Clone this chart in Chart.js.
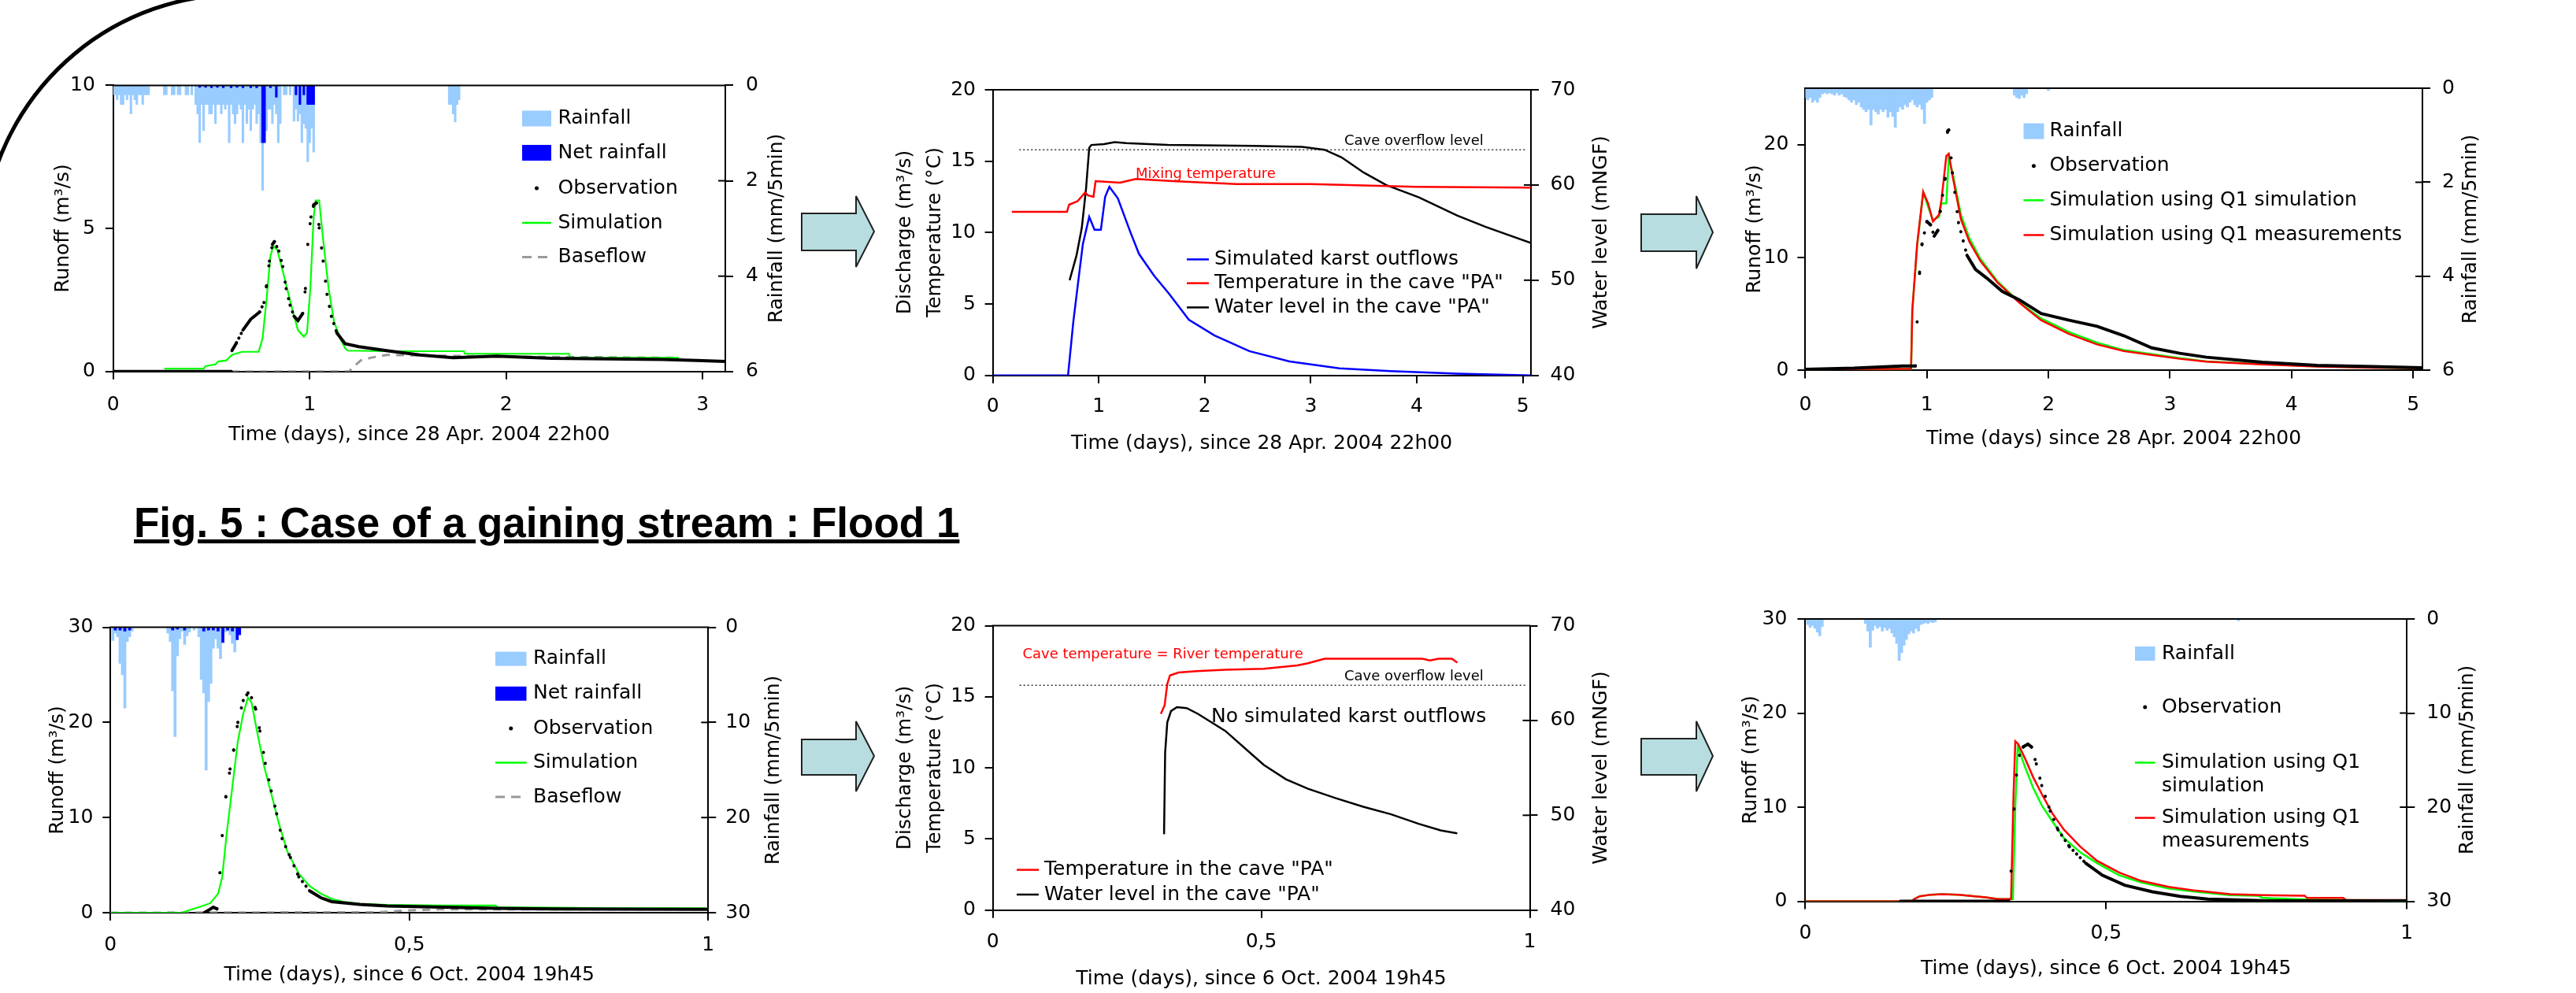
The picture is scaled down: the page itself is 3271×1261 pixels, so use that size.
<!DOCTYPE html>
<html>
<head>
<meta charset="utf-8">
<script src="https://cdn.jsdelivr.net/npm/chart.js@4.4.1/dist/chart.umd.min.js"></script>
<style>
  body { margin: 0; width: 3271px; height: 1261px; background: #fff; position: relative; overflow: hidden; }
  canvas { position: absolute; }
  #deco { position: absolute; left: 0; top: 0; }
  #title { position: absolute; left: 170px; top: 637px; font: bold 53px "Liberation Sans", Arial, sans-serif;
           line-height: 53px; text-decoration: underline; white-space: nowrap; color: #000; }
</style>
</head>
<body>
<svg id="deco" width="3271" height="1261">
  <path d="M -17 260 A 325 325 0 0 1 303 -7" fill="none" stroke="#000" stroke-width="5"/>
  <polygon points="1018,271 1087,271 1087,249 1110,294 1087,339 1087,318 1018,318" fill="#b7dde0" stroke="#222" stroke-width="2"/>
  <polygon points="2084,272 2154,272 2154,249 2175,295 2154,341 2154,319 2084,319" fill="#b7dde0" stroke="#222" stroke-width="2"/>
  <polygon points="1018,939 1087,939 1087,916 1110,960 1087,1005 1087,984 1018,984" fill="#b7dde0" stroke="#222" stroke-width="2"/>
  <polygon points="2084,938 2154,938 2154,916 2175,960 2154,1005 2154,984 2084,984" fill="#b7dde0" stroke="#222" stroke-width="2"/>
</svg>
<div id="title">Fig. 5 : Case of a gaining stream : Flood 1</div>
<script>
'use strict';

// ---------- Flood 1, runoff (top left) ----------
const rain1T = [0,0.01,0.02,0.03,0.04,0.05,0.06,0.07,0.08,0.09,0.10,0.11,0.12,0.13,0.14,0.15,0.16,0.17,0.18,
  0.26,0.27,0.30,0.31,0.33,0.34,0.37,0.38,0.40,
  0.42,0.43,0.44,0.45,0.46,0.47,0.48,0.49,0.50,0.51,0.52,0.53,0.54,0.55,0.56,0.57,0.58,0.59,0.60,0.61,
  0.62,0.63,0.64,0.65,0.66,0.67,0.68,0.69,0.70,0.71,0.72,0.73,0.74,0.75,0.76,0.77,0.78,0.79,0.80,0.81,
  0.82,0.83,0.84,0.85,
  0.87,0.88,0.90,0.92,0.93,0.94,0.95,0.96,0.97,0.98,0.99,1.00,1.01,1.02,
  1.71,1.72,1.73,1.74,1.75,1.76];
const rain1 = [0.2,0.2,0.3,0.2,0.4,0.4,0.2,0.3,0.2,0.6,0.2,0.3,0.4,0.2,0.2,0.4,0.2,0.2,0.2,
  0.2,0.2,0.2,0.2,0.2,0.2,0.2,0.2,0.2,
  0.4,0.6,1.2,0.4,0.95,0.4,0.4,0.6,0.6,0.4,0.8,0.4,0.4,0.6,0.4,0.5,0.4,1.2,0.4,0.6,
  0.8,0.6,0.4,0.5,1.2,0.4,0.8,0.5,0.95,0.5,0.4,0.8,0.6,1.2,2.2,0.6,0.95,0.5,0.5,0.8,
  0.4,0.6,1.2,0.8,
  0.2,0.2,0.2,0.75,0.5,0.75,0.6,1.2,0.8,0.9,1.6,1.2,0.9,1.4,
  0.4,0.4,0.6,0.77,0.4,0.3];
const net1T = [0.44,0.47,0.50,0.53,0.56,0.60,0.63,0.66,0.70,0.73,0.76,0.77,0.80,0.83,0.93,0.95,0.97,0.99,1.00,1.01,1.02];
const net1 = [0.04,0.04,0.05,0.04,0.05,0.05,0.04,0.05,0.05,0.05,1.2,1.2,0.05,0.25,0.2,0.4,0.2,0.4,0.4,0.4,0.4];
const obs1T = [0,0.6,0.604,0.627,0.66,0.70,0.745,0.767,0.78,0.795,0.81,0.82,0.843,0.863,0.88,0.90,0.92,0.94,0.964,
  0.978,0.99,1.006,1.02,1.034,1.048,1.068,1.088,1.11,1.138,1.18,1.25,1.39,1.56,1.73,1.95,2.23,2.52,2.80,2.97,3.115];
const obs1 = [0,0,0.73,1.0,1.45,1.83,2.08,2.41,3.0,3.86,4.44,4.54,4.21,3.67,2.9,2.32,1.93,1.78,2.03,
  2.9,4.44,5.4,5.83,5.89,5.02,3.86,2.7,1.93,1.35,0.97,0.87,0.73,0.58,0.48,0.54,0.46,0.44,0.42,0.39,0.35];
const sim1T = [0.26,0.46,0.47,0.52,0.534,0.576,0.604,0.655,0.74,0.76,0.78,0.80,0.815,0.835,0.857,0.885,0.913,0.94,
  0.97,0.986,1.003,1.02,1.03,1.048,1.068,1.096,1.124,1.152,1.18,1.194,1.39,1.785,1.79,2.32,2.325,2.88];
const sim1 = [0.1,0.1,0.19,0.25,0.35,0.39,0.58,0.69,0.69,1.16,2.5,4.05,4.38,4.25,3.67,2.9,2.12,1.45,
  1.22,1.35,2.9,5.4,5.98,5.98,4.63,2.9,1.74,1.2,0.81,0.73,0.71,0.71,0.62,0.62,0.48,0.48];
const base1T = [0.6,1.2,1.22,1.26,1.31,1.39,2.0,2.5,2.88];
const base1 = [0,0,0.15,0.39,0.48,0.58,0.52,0.5,0.48];

// ---------- Flood 1, cave (top middle) ----------
const karst2T = [0,0.71,0.76,0.81,0.85,0.91,0.96,1.02,1.06,1.10,1.18,1.3,1.38,1.52,1.66,1.85,2.09,2.42,2.8,3.27,3.75,4.38,5.077];
const karst2 = [0,0,3.75,6.8,9.2,11.1,10.2,10.2,12.5,13.2,12.4,10.0,8.5,7.0,5.75,3.9,2.8,1.7,0.98,0.5,0.3,0.12,0];
const temp2T = [0.18,0.70,0.72,0.80,0.87,0.90,0.95,0.97,1.2,1.35,1.7,2.3,3.0,3.5,4.0,5.077];
const temp2 = [11.45,11.45,11.95,12.2,12.8,12.6,12.5,13.6,13.5,13.75,13.6,13.4,13.4,13.3,13.2,13.15];
const level2T = [0.725,0.79,0.84,0.88,0.91,0.93,1.05,1.15,1.26,1.65,2.46,2.92,3.13,3.29,3.50,3.71,4.02,4.38,4.65,5.077];
const level2 = [50,52.6,55.5,59.6,63.9,64.2,64.3,64.5,64.4,64.2,64.1,64.0,63.7,62.9,61.3,60.0,58.7,56.8,55.6,53.9];
const overflowLevel = 15.8;
const overflow2Span = [0.25, 5.03];

// ---------- Flood 1, downstream runoff (top right) ----------
const rain3T = [0,0.02,0.04,0.06,0.08,0.10,0.12,0.14,0.16,0.18,0.20,0.22,0.24,0.26,0.28,0.30,0.32,0.34,0.36,0.38,
  0.40,0.42,0.44,0.46,0.48,0.50,0.52,0.54,0.56,0.58,0.60,0.62,0.64,0.66,0.68,0.70,0.72,0.74,0.76,0.78,
  0.80,0.82,0.84,0.86,0.88,0.90,0.92,0.94,0.96,0.98,1.00,1.02,1.04,
  1.72,1.74,1.76,1.78,1.80,1.82,2.00];
const rain3 = [0.2,0.25,0.2,0.3,0.25,0.3,0.2,0.12,0.1,0.12,0.1,0.12,0.15,0.1,0.15,0.12,0.18,0.2,0.25,0.3,
  0.25,0.35,0.3,0.4,0.45,0.5,0.45,0.78,0.45,0.5,0.55,0.45,0.5,0.45,0.62,0.5,0.6,0.83,0.5,0.4,
  0.45,0.35,0.4,0.3,0.25,0.35,0.4,0.35,0.45,0.75,0.3,0.25,0.2,
  0.15,0.2,0.22,0.15,0.2,0.12,0.05];
const obs3T = [0,0.4,0.8,0.905,0.92,0.94,0.96,1.0,1.03,1.06,1.09,1.11,1.15,1.17,1.18,1.21,1.26,1.33,1.40,1.49,
  1.62,1.76,1.94,2.17,2.40,2.62,2.85,3.08,3.30,3.76,4.21,4.67,5.077];
const obs3 = [0.1,0.2,0.4,0.4,4.3,8.7,11.2,13.2,12.9,11.9,12.4,14.1,17.0,21.2,21.3,17.5,13.1,10.2,8.95,8.2,
  7.0,6.26,5.04,4.45,3.91,3.08,2.0,1.52,1.17,0.73,0.44,0.34,0.24];
const sim3T = [0,0.87,0.88,0.92,0.97,1.01,1.05,1.10,1.12,1.16,1.18,1.21,1.28,1.35,1.44,1.58,1.76,1.94,2.17,2.40,
  2.62,2.85,3.08,3.30,3.76,4.21,4.67,5.077];
const simQ1sim3 = [0.1,0.15,5.3,11.0,15.8,14.5,13.3,13.6,14.8,14.8,18.8,17.6,13.8,11.7,9.9,7.9,6.05,4.6,3.4,2.45,
  1.8,1.45,1.1,0.8,0.56,0.36,0.26,0.2];
const simQ1meas3 = [0.1,0.15,5.3,11.2,15.8,14.8,13.2,13.8,15.1,19.0,19.2,17.3,13.4,11.4,9.7,7.8,6.0,4.45,3.23,2.3,
  1.71,1.37,1.03,0.78,0.54,0.34,0.24,0.2];

// ---------- Flood 2, runoff (bottom left) ----------
const rain4T = [0.004,0.008,0.012,0.016,0.020,0.024,0.028,0.032,0.036,
  0.096,0.100,0.104,0.108,0.112,0.116,0.120,0.124,0.128,0.132,0.140,
  0.148,0.152,0.156,0.160,0.164,0.168,0.172,0.176,0.180,0.184,0.188,0.192,0.196,0.200,0.204,0.208,0.212,0.216];
const rain4 = [1.4,0.6,1.0,3.8,5.0,8.5,1.5,1.0,0.4,
  0.6,1.5,6.7,11.5,3.0,1.2,0.4,1.8,0.9,0.5,0.3,
  1.0,5.5,6.9,15.0,7.8,5.9,2.2,1.2,2.2,3.3,1.0,0.5,0.4,0.8,1.7,2.6,0.8,0.3];
const net4T = [0.008,0.016,0.024,0.032,0.104,0.112,0.124,0.156,0.164,0.172,0.180,0.188,0.196,0.204,0.212,0.216];
const net4 = [0.3,0.3,0.4,0.3,0.3,0.2,0.3,0.4,0.3,0.3,0.4,1.6,0.3,0.4,1.3,0.8];
const obs4T = [0.157,0.165,0.172,0.178,0.183,0.187,0.193,0.2,0.206,0.213,0.222,0.23,0.236,0.243,0.25,0.259,0.269,
  0.278,0.287,0.301,0.315,0.333,0.352,0.37,0.417,0.463,0.556,0.648,0.74,1.0];
const obs4 = [0,0.3,0.58,0.4,4.2,8.1,12.2,15.1,17.1,20.0,22.3,23.1,22.6,21.4,19.1,15.7,12.8,
  10.4,7.8,5.8,3.77,2.3,1.57,1.16,0.87,0.7,0.58,0.46,0.4,0.35];
const sim4T = [0,0.12,0.13,0.148,0.167,0.18,0.187,0.194,0.204,0.213,0.222,0.23,0.236,0.245,0.257,0.269,0.282,
  0.296,0.315,0.333,0.352,0.37,0.389,0.417,0.463,0.556,0.644,0.648,0.74,0.833,1.0];
const sim4 = [0,0,0.23,0.58,1.0,2.0,3.77,8.1,13.3,18.0,20.9,22.6,22.1,19.1,15.4,12.5,9.3,
  6.4,4.1,2.8,2.0,1.45,1.16,0.93,0.81,0.75,0.75,0.58,0.52,0.46,0.46];
const base4T = [0,0.45,0.5,0.55,1.0];
const base4 = [0,0.05,0.25,0.35,0.35];

// ---------- Flood 2, cave (bottom middle) ----------
const temp5T = [0.313,0.32,0.325,0.33,0.346,0.38,0.433,0.505,0.567,0.587,0.618,0.80,0.814,0.83,0.855,0.865];
const temp5 = [13.8,14.4,15.9,16.5,16.7,16.8,16.9,16.97,17.2,17.36,17.67,17.67,17.55,17.67,17.67,17.4];
const level5T = [0.319,0.321,0.325,0.332,0.343,0.361,0.382,0.433,0.485,0.505,0.546,0.587,0.639,0.69,0.742,0.793,0.834,0.865];
const level5 = [48.0,56.6,59.8,61.0,61.4,61.3,60.7,58.9,56.3,55.3,53.8,52.8,51.8,50.9,50.1,49.1,48.4,48.1];
const overflow5Span = [0.05, 0.993];

// ---------- Flood 2, downstream runoff (bottom right) ----------
const rain6T = [0.004,0.008,0.012,0.016,0.020,0.024,0.028,
  0.100,0.104,0.108,0.112,0.116,0.120,0.124,0.128,0.132,0.136,0.140,0.144,0.148,0.152,0.156,0.160,0.164,0.168,
  0.172,0.176,0.180,0.184,0.188,0.192,0.196,0.200,0.204,0.208,0.212,0.216,0.720];
const rain6 = [0.6,0.9,0.7,1.0,1.4,1.8,0.8,
  0.5,1.3,3.0,1.2,0.7,1.0,0.8,1.3,0.9,1.2,1.0,1.5,1.9,2.6,4.4,3.6,2.8,2.2,
  1.6,1.3,1.5,1.0,1.3,0.6,0.5,0.4,0.5,0.3,0.4,0.3,0.2];
const obs6T = [0.158,0.338,0.342,0.347,0.351,0.356,0.362,0.37,0.376,0.384,0.393,0.407,0.42,0.439,0.466,0.494,
  0.531,0.577,0.623,0.669,0.761,1.0];
const obs6 = [0,0,3.2,9.8,13.4,15.5,16.4,16.7,16.4,14.6,12.3,9.6,7.6,5.8,4.05,2.76,1.7,1.0,0.53,0.23,0.06,0.05];
const meas6T = [0,0.177,0.181,0.19,0.209,0.227,0.255,0.282,0.30,0.32,0.342,0.346,0.349,0.354,0.365,0.379,0.393,
  0.411,0.43,0.457,0.485,0.522,0.558,0.604,0.65,0.706,0.761,0.83,0.834,0.894,0.899,1.0];
const meas6 = [0,0,0.23,0.53,0.7,0.76,0.7,0.53,0.41,0.23,0.23,11.1,17.0,16.7,15.2,13.15,11.4,
  9.3,7.6,5.8,4.3,3.05,2.17,1.53,1.12,0.76,0.65,0.59,0.35,0.35,0.12,0.12];
const qsim6T = [0,0.177,0.181,0.19,0.209,0.227,0.255,0.282,0.30,0.32,0.345,0.349,0.353,0.365,0.379,0.393,0.411,
  0.43,0.457,0.485,0.522,0.558,0.604,0.65,0.706,0.752,0.761,0.834,1.0];
const qsim6 = [0,0,0.23,0.53,0.7,0.76,0.7,0.53,0.41,0.23,0.23,10.0,16.5,14.3,12.0,10.2,8.45,
  6.7,5.2,4.05,2.76,2.0,1.35,1.0,0.65,0.59,0.35,0.18,0.05];

// ---------- styling ----------
const FONT = 'DejaVu Sans';
const RAIN = '#99ccff', NET = '#0000ff', GREEN = '#00ff00', RED = '#ff0000', BLUE = '#0000ff', GRAY = '#999999';
Chart.defaults.font.family = FONT;
Chart.defaults.font.size = 25;
Chart.defaults.color = '#000';

const pts = (t, v) => t.map((x, i) => ({ x: x, y: v[i] }));
const flat = (span, v) => span.map(x => ({ x: x, y: v }));

// observations: one dot per sample where the curve is steep, continuous where dense
function obsDash(step) {
  return ctx => {
    const dx = Math.abs(ctx.p1.x - ctx.p0.x), dy = Math.abs(ctx.p1.y - ctx.p0.y);
    const gap = step * Math.hypot(dx, dy) / Math.max(dx, 0.5);
    return gap > 6 ? [0.1, gap] : undefined;
  };
}

function rainSet(t, v, color, order) {
  return { type: 'bar', data: pts(t, v), yAxisID: 'yR', backgroundColor: color, borderWidth: 0,
    barPercentage: 1, categoryPercentage: 1, grouped: false, order: order };
}
function lineSet(data, color, width, order, axis, dash) {
  return { type: 'line', data: data, yAxisID: axis || 'yL', borderColor: color, borderWidth: width,
    borderDash: dash || [], pointRadius: 0, tension: 0, fill: false, order: order };
}
function obsSet(t, v, step, order) {
  return { type: 'line', data: pts(t, v), yAxisID: 'yL', borderColor: '#000', borderWidth: 4,
    borderCapStyle: 'round', pointRadius: 0, tension: 0, fill: false, order: order,
    segment: { borderDash: obsDash(step) } };
}

function axis(pos, min, max, ticks, size, pad, rev) {
  const horizontal = pos === 'bottom';
  return {
    type: 'linear', position: pos, min: min, max: max, reverse: !!rev, offset: false,
    grid: { drawOnChartArea: false, color: '#000', lineWidth: 2, tickLength: 10, offset: false },
    border: { color: '#000', width: 2 },
    ticks: { color: '#000', font: { family: FONT, size: 25 }, padding: pad, maxRotation: 0, autoSkip: false,
      callback: v => String(v).replace('.', ',') },
    afterBuildTicks: s => { s.ticks = ticks.map(v => ({ value: v })); },
    afterFit: s => {
      if (horizontal) { s.height = size; s.paddingLeft = 0; s.paddingRight = 0; }
      else { s.width = size; s.paddingTop = 0; s.paddingBottom = 0; }
    }
  };
}

function decor(spec) {
  return {
    id: 'decor',
    afterDraw(chart) {
      const ctx = chart.ctx, a = chart.chartArea;
      ctx.save();
      ctx.strokeStyle = '#000';
      ctx.lineWidth = 2;
      ctx.beginPath(); ctx.moveTo(a.left - 1, a.top); ctx.lineTo(a.right + 1, a.top); ctx.stroke();
      const yR = chart.scales.yR;
      yR.ticks.forEach(t => {
        const y = yR.getPixelForValue(t.value);
        if (y > a.top + 3 && y < a.bottom - 3) {
          ctx.beginPath(); ctx.moveTo(a.right - 9, y); ctx.lineTo(a.right, y); ctx.stroke();
        }
      });
      const ox = spec.ox, oy = spec.oy;
      spec.legend.forEach(it => {
        const x0 = it.x0 - ox, x1 = it.x1 - ox, y = it.y - oy;
        ctx.setLineDash([]);
        if (it.k === 'box') {
          ctx.fillStyle = it.c; ctx.fillRect(x0, y - it.h / 2, x1 - x0, it.h);
        } else if (it.k === 'dot') {
          ctx.fillStyle = '#000'; ctx.beginPath(); ctx.arc((x0 + x1) / 2, y, 2.5, 0, Math.PI * 2); ctx.fill();
        } else {
          ctx.strokeStyle = it.c; ctx.lineWidth = it.k === 'dash' ? 3 : 2.5;
          if (it.k === 'dash') ctx.setLineDash([12, 8]);
          ctx.beginPath(); ctx.moveTo(x0, y); ctx.lineTo(x1, y); ctx.stroke();
        }
        ctx.setLineDash([]);
        ctx.fillStyle = '#000';
        ctx.font = '25px "' + FONT + '"';
        ctx.textAlign = 'left'; ctx.textBaseline = 'middle';
        it.label.forEach((s, i) => ctx.fillText(s, it.lx - ox, y + i * 30));
      });
      spec.texts.forEach(t => {
        ctx.save();
        ctx.translate(t.x - ox, t.y - oy);
        if (t.rot) ctx.rotate(-Math.PI / 2);
        ctx.font = (t.size || 25) + 'px "' + FONT + '"';
        ctx.fillStyle = t.color || '#000';
        ctx.textAlign = t.align || 'center';
        ctx.textBaseline = 'middle';
        ctx.fillText(t.t, 0, 0);
        ctx.restore();
      });
      ctx.restore();
    }
  };
}

function build(spec) {
  const cv = document.createElement('canvas');
  cv.width = spec.w; cv.height = spec.h;
  cv.style.left = spec.ox + 'px'; cv.style.top = spec.oy + 'px';
  document.body.appendChild(cv);
  const b = spec.box;
  new Chart(cv, {
    type: 'line',
    data: { datasets: spec.datasets },
    options: {
      responsive: false, animation: false, events: [],
      layout: { padding: { top: b.top - spec.oy, left: 0, right: 0, bottom: 0 } },
      plugins: { legend: { display: false }, tooltip: { enabled: false } },
      scales: {
        x: axis('bottom', spec.x[0], spec.x[1], spec.xt, spec.oy + spec.h - b.bottom, spec.pad[0]),
        yL: axis('left', spec.yl[0], spec.yl[1], spec.ylt, b.left - spec.ox, spec.pad[1]),
        yR: axis('right', spec.yr[0], spec.yr[1], spec.yrt, spec.ox + spec.w - b.right, spec.pad[2], spec.rrev)
      }
    },
    plugins: [decor(spec)]
  });
}

const t1 = 'Time (days), since 28 Apr. 2004 22h00';
const t2 = 'Time (days), since 6 Oct. 2004 19h45';

// top left
build({
  ox: 0, oy: 90, w: 1010, h: 490, box: { left: 143.8, top: 108.4, right: 921, bottom: 471.8 },
  x: [0, 3.115], xt: [0, 1, 2, 3], yl: [0, 10], ylt: [0, 5, 10], yr: [0, 6], yrt: [0, 2, 4, 6], rrev: true,
  pad: [18, 13, 16],
  datasets: [
    obsSet(obs1T, obs1, 3, 0),
    lineSet(pts(sim1T, sim1), GREEN, 2.2, 1),
    lineSet(pts(base1T, base1), GRAY, 3, 2, 'yL', [10, 8]),
    rainSet(net1T, net1, NET, 3),
    rainSet(rain1T, rain1, RAIN, 4)
  ],
  legend: [
    { k: 'box', c: RAIN, x0: 663, x1: 700, y: 150.5, h: 20, label: ['Rainfall'], lx: 708.5 },
    { k: 'box', c: NET, x0: 663, x1: 700, y: 194, h: 20, label: ['Net rainfall'], lx: 708.5 },
    { k: 'dot', x0: 663, x1: 700, y: 239, label: ['Observation'], lx: 708.5 },
    { k: 'line', c: GREEN, x0: 663, x1: 700, y: 283, label: ['Simulation'], lx: 708.5 },
    { k: 'dash', c: GRAY, x0: 663, x1: 700, y: 326.6, label: ['Baseflow'], lx: 708.5 }
  ],
  texts: [
    { t: 'Runoff (m\u00b3/s)', x: 80, y: 290, rot: true },
    { t: 'Rainfall (mm/5min)', x: 986, y: 290, rot: true },
    { t: t1, x: 532.4, y: 552.5 }
  ]
});

// top middle
build({
  ox: 1110, oy: 90, w: 970, h: 500, box: { left: 1260.6, top: 114, right: 1944, bottom: 476.7 },
  x: [0, 5.077], xt: [0, 1, 2, 3, 4, 5], yl: [0, 20], ylt: [0, 5, 10, 15, 20], yr: [40, 70], yrt: [40, 50, 60, 70],
  pad: [15, 11.6, 14.5],
  datasets: [
    lineSet(pts(karst2T, karst2), BLUE, 2.5, 0),
    lineSet(pts(temp2T, temp2), RED, 2.5, 1),
    lineSet(pts(level2T, level2), '#000', 2.5, 2, 'yR'),
    lineSet(flat(overflow2Span, overflowLevel), '#333', 1.5, 3, 'yL', [2, 3])
  ],
  legend: [
    { k: 'line', c: BLUE, x0: 1507, x1: 1535, y: 329.4, label: ['Simulated karst outflows'], lx: 1542 },
    { k: 'line', c: RED, x0: 1507, x1: 1535, y: 359.6, label: ['Temperature in the cave "PA"'], lx: 1542 },
    { k: 'line', c: '#000', x0: 1507, x1: 1535, y: 390.4, label: ['Water level in the cave "PA"'], lx: 1542 }
  ],
  texts: [
    { t: 'Discharge (m\u00b3/s)', x: 1149, y: 295, rot: true },
    { t: 'Temperature (\u00b0C)', x: 1187.7, y: 295, rot: true },
    { t: 'Water level (mNGF)', x: 2033, y: 295, rot: true },
    { t: t1, x: 1602, y: 563 },
    { t: 'Cave overflow level', x: 1707, y: 179, size: 18, align: 'left' },
    { t: 'Mixing temperature', x: 1442, y: 221, size: 18, align: 'left', color: RED }
  ]
});

// top right
build({
  ox: 2180, oy: 90, w: 1091, h: 500, box: { left: 2292.4, top: 112, right: 3076, bottom: 470.4 },
  x: [0, 5.077], xt: [0, 1, 2, 3, 4, 5], yl: [0, 25], ylt: [0, 10, 20], yr: [0, 6], yrt: [0, 2, 4, 6], rrev: true,
  pad: [18.6, 11, 15],
  datasets: [
    obsSet(obs3T, obs3, 3, 0),
    lineSet(pts(sim3T, simQ1meas3), RED, 2.5, 1),
    lineSet(pts(sim3T, simQ1sim3), GREEN, 2.5, 2),
    rainSet(rain3T, rain3, RAIN, 3)
  ],
  legend: [
    { k: 'box', c: RAIN, x0: 2569.5, x1: 2595.4, y: 166.6, h: 20, label: ['Rainfall'], lx: 2602.4 },
    { k: 'dot', x0: 2569.5, x1: 2595.4, y: 210.8, label: ['Observation'], lx: 2602.4 },
    { k: 'line', c: GREEN, x0: 2569.5, x1: 2595.4, y: 254.3, label: ['Simulation using Q1 simulation'], lx: 2602.4 },
    { k: 'line', c: RED, x0: 2569.5, x1: 2595.4, y: 298.5, label: ['Simulation using Q1 measurements'], lx: 2602.4 }
  ],
  texts: [
    { t: 'Runoff (m\u00b3/s)', x: 2228.5, y: 291, rot: true },
    { t: 'Rainfall (mm/5min)', x: 3137.7, y: 291, rot: true },
    { t: 'Time (days) since 28 Apr. 2004 22h00', x: 2684, y: 557 }
  ]
});

// bottom left
build({
  ox: 0, oy: 770, w: 1010, h: 491, box: { left: 140.3, top: 796.6, right: 899.3, bottom: 1159 },
  x: [0, 1], xt: [0, 0.5, 1], yl: [0, 30], ylt: [0, 10, 20, 30], yr: [0, 30], yrt: [0, 10, 20, 30], rrev: true,
  pad: [16, 12, 12],
  datasets: [
    obsSet(obs4T, obs4, 4.5, 0),
    lineSet(pts(sim4T, sim4), GREEN, 2.2, 1),
    lineSet(pts(base4T, base4), GRAY, 3, 2, 'yL', [10, 8]),
    rainSet(net4T, net4, NET, 3),
    rainSet(rain4T, rain4, RAIN, 4)
  ],
  legend: [
    { k: 'box', c: RAIN, x0: 629, x1: 668.5, y: 836.6, h: 18, label: ['Rainfall'], lx: 677 },
    { k: 'box', c: NET, x0: 629, x1: 668.5, y: 880.8, h: 18, label: ['Net rainfall'], lx: 677 },
    { k: 'dot', x0: 629, x1: 668.5, y: 925, label: ['Observation'], lx: 677 },
    { k: 'line', c: GREEN, x0: 629, x1: 668.5, y: 968.5, label: ['Simulation'], lx: 677 },
    { k: 'dash', c: GRAY, x0: 629, x1: 668.5, y: 1012, label: ['Baseflow'], lx: 677 }
  ],
  texts: [
    { t: 'Runoff (m\u00b3/s)', x: 73.7, y: 978, rot: true },
    { t: 'Rainfall (mm/5min)', x: 982, y: 978, rot: true },
    { t: t2, x: 519.8, y: 1238 }
  ]
});

// bottom middle
build({
  ox: 1110, oy: 770, w: 970, h: 491, box: { left: 1260.6, top: 794.5, right: 1942.5, bottom: 1155.7 },
  x: [0, 1], xt: [0, 0.5, 1], yl: [0, 20], ylt: [0, 5, 10, 15, 20], yr: [40, 70], yrt: [40, 50, 60, 70],
  pad: [16, 11.6, 16],
  datasets: [
    lineSet(pts(temp5T, temp5), RED, 2.5, 0),
    lineSet(pts(level5T, level5), '#000', 2.5, 1, 'yR'),
    lineSet(flat(overflow5Span, overflowLevel), '#333', 1.5, 2, 'yL', [2, 3])
  ],
  legend: [
    { k: 'line', c: RED, x0: 1291, x1: 1319, y: 1104.6, label: ['Temperature in the cave "PA"'], lx: 1326 },
    { k: 'line', c: '#000', x0: 1291, x1: 1319, y: 1136, label: ['Water level in the cave "PA"'], lx: 1326 }
  ],
  texts: [
    { t: 'Discharge (m\u00b3/s)', x: 1149, y: 975, rot: true },
    { t: 'Temperature (\u00b0C)', x: 1187.7, y: 975, rot: true },
    { t: 'Water level (mNGF)', x: 2033, y: 975, rot: true },
    { t: t2, x: 1601.5, y: 1243 },
    { t: 'No simulated karst outflows', x: 1538, y: 910, align: 'left' },
    { t: 'Cave temperature = River temperature', x: 1298.5, y: 831.7, size: 18, align: 'left', color: RED },
    { t: 'Cave overflow level', x: 1707, y: 859.7, size: 18, align: 'left' }
  ]
});

// bottom right
build({
  ox: 2180, oy: 760, w: 1091, h: 501, box: { left: 2292.4, top: 786, right: 3056.3, bottom: 1144.5 },
  x: [0, 1], xt: [0, 0.5, 1], yl: [0, 30], ylt: [0, 10, 20, 30], yr: [0, 30], yrt: [0, 10, 20, 30], rrev: true,
  pad: [15.5, 13, 15],
  datasets: [
    obsSet(obs6T, obs6, 4.5, 0),
    lineSet(pts(meas6T, meas6), RED, 2.5, 1),
    lineSet(pts(qsim6T, qsim6), GREEN, 2.5, 2),
    rainSet(rain6T, rain6, RAIN, 3)
  ],
  legend: [
    { k: 'box', c: RAIN, x0: 2711, x1: 2736.5, y: 830, h: 18, label: ['Rainfall'], lx: 2745 },
    { k: 'dot', x0: 2711, x1: 2736.5, y: 898, label: ['Observation'], lx: 2745 },
    { k: 'line', c: GREEN, x0: 2711, x1: 2736.5, y: 968.5, label: ['Simulation using Q1', 'simulation'], lx: 2745 },
    { k: 'line', c: RED, x0: 2711, x1: 2736.5, y: 1038.6, label: ['Simulation using Q1', 'measurements'], lx: 2745 }
  ],
  texts: [
    { t: 'Runoff (m\u00b3/s)', x: 2223.6, y: 965, rot: true },
    { t: 'Rainfall (mm/5min)', x: 3133.5, y: 965, rot: true },
    { t: t2, x: 2674.3, y: 1230 }
  ]
});
</script>
</body>
</html>
